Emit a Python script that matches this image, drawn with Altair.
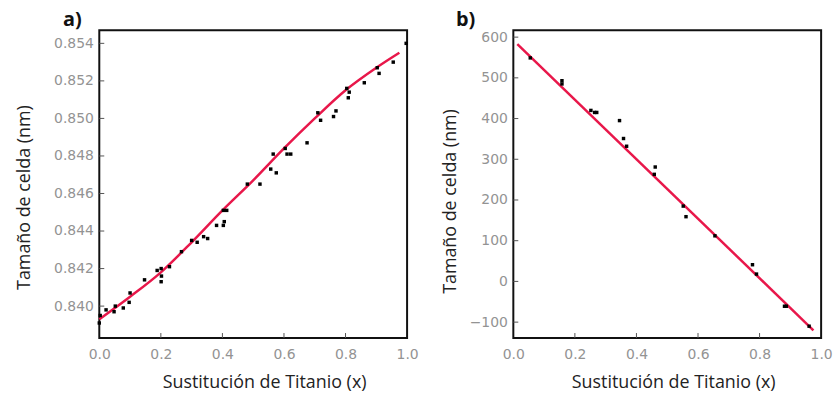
import altair as alt
import pandas as pd

# ---- panel a data ----
a_x = [0.997, 0.955, 0.909, 0.903, 0.861, 0.809, 0.812, 0.804, 0.769, 0.761, 0.719, 0.710,
       0.675, 0.622, 0.610, 0.604, 0.565, 0.575, 0.557, 0.522, 0.481, 0.414, 0.403, 0.406,
       0.403, 0.381, 0.352, 0.339, 0.318, 0.300, 0.267, 0.228, 0.201, 0.188, 0.202, 0.201,
       0.147, 0.100, 0.097, 0.078, 0.052, 0.048, 0.022, 0.003, 0.000]
a_y = [0.8540, 0.8530, 0.8524, 0.8527, 0.8519, 0.8511, 0.8514, 0.8516, 0.8504, 0.8501, 0.8499, 0.8503,
       0.8487, 0.8481, 0.8481, 0.8484, 0.8481, 0.8471, 0.8473, 0.8465, 0.8465, 0.8451, 0.8451, 0.8445,
       0.8443, 0.8443, 0.8436, 0.8437, 0.8434, 0.8435, 0.8429, 0.8421, 0.8420, 0.8419, 0.8416, 0.8413,
       0.8414, 0.8407, 0.8402, 0.8399, 0.8400, 0.8397, 0.8398, 0.8395, 0.8391]
a_fit_x = [0.0, 0.1, 0.2, 0.3, 0.4, 0.5, 0.6, 0.7, 0.8, 0.9, 0.975]
a_fit_y = [0.8393, 0.8405, 0.8418, 0.8434, 0.8451, 0.8467, 0.8484, 0.8500, 0.8515, 0.8527, 0.8535]
a_yticks = [0.840, 0.842, 0.844, 0.846, 0.848, 0.850, 0.852, 0.854]

# ---- panel b data ----
b_x = [0.055, 0.158, 0.158, 0.252, 0.264, 0.271, 0.345, 0.358, 0.368, 0.461, 0.458,
       0.552, 0.561, 0.655, 0.777, 0.790, 0.881, 0.887, 0.961]
b_y = [549, 493, 485, 420, 415, 415, 395, 351, 332, 281, 263,
       185, 159, 112, 41, 18, -61, -61, -110]
b_fit_x = [0.013, 0.975]
b_fit_y = [583, -120]
b_yticks = [-100, 0, 100, 200, 300, 400, 500, 600]

x_ticks = [0.0, 0.2, 0.4, 0.6, 0.8, 1.0]

RED = "#e8174a"
W, H = 310, 310
XT = "Sustitución de Titanio (x)"
YT = "Tamaño de celda (nm)"


def panel(px, py, fx, fy, ydom, yticks, yfmt, letter, lx, ytpad, xtx, yty):
    xs = alt.Scale(domain=[0, 1], nice=False, zero=False)
    ys = alt.Scale(domain=ydom, nice=False, zero=False)
    pts = pd.DataFrame({"x": px, "y": py})
    fit = pd.DataFrame({"x": fx, "y": fy})
    xenc = alt.X("x:Q", scale=xs, title=XT,
                 axis=alt.Axis(values=x_ticks, format=".1f", ticks=False, domain=False, grid=False,
                               labelFlush=False, labelPadding=10, titlePadding=12, titleX=xtx))
    yenc = alt.Y("y:Q", scale=ys, title=YT,
                 axis=alt.Axis(values=yticks, format=yfmt, ticks=False, domain=False, grid=False,
                               labelFlush=False, labelPadding=6, titlePadding=ytpad, titleY=yty))
    line = alt.Chart(fit).mark_line(color=RED, strokeWidth=2.5, interpolate="monotone").encode(
        x=xenc, y=yenc)
    dots = alt.Chart(pts).mark_square(color="black", size=12, opacity=1).encode(
        x=alt.X("x:Q", scale=xs), y=alt.Y("y:Q", scale=ys))
    xt = alt.Chart(pd.DataFrame({"t": x_ticks[1:-1]})).mark_rule(color="#555", strokeWidth=1).encode(
        x=alt.X("t:Q", scale=xs), y=alt.value(H), y2=alt.value(H - 5))
    yt = alt.Chart(pd.DataFrame({"t": yticks})).mark_rule(color="#555", strokeWidth=1).encode(
        y=alt.Y("t:Q", scale=ys), x=alt.value(0), x2=alt.value(5))
    lab = alt.Chart(pd.DataFrame({"t": [letter]})).mark_text(
        font="Open Sans", fontSize=20, fontWeight="bold", color="#111", align="center",
        baseline="middle").encode(text="t:N", x=alt.value(lx), y=alt.value(-10))
    return alt.layer(line, dots, xt, yt, lab).properties(width=W, height=H)


pa = panel(a_x, a_y, a_fit_x, a_fit_y, [0.8383, 0.8547], a_yticks, ".3f", "a)", -27, 20, 166, 168)
pb = panel(b_x, b_y, b_fit_x, b_fit_y, [-139, 617], b_yticks, "d", "b)", -48, 10, 161, 172)

chart = alt.hconcat(pa, pb, spacing=20).properties(
    padding={"left": 14, "top": 8, "right": 5, "bottom": 5},
    background="white"
).configure_view(
    stroke="#111", strokeWidth=2
).configure_axis(
    grid=False, labelColor="#939393", labelFont="DejaVu Sans", labelFontSize=14,
    titleFont="Open Sans", titleFontSize=18, titleFontWeight="normal", titleColor="#222"
)

chart.save("out.html", embed_options={"renderer": "svg", "actions": False})
